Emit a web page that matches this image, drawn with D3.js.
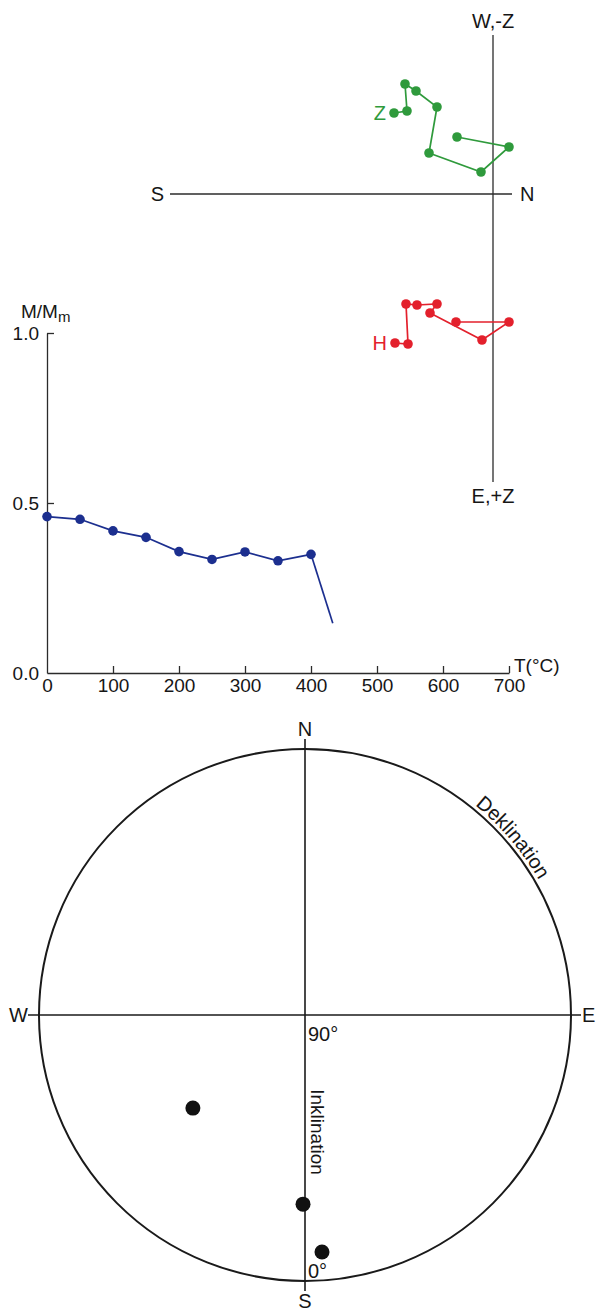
<!DOCTYPE html>
<html><head><meta charset="utf-8">
<script src="https://cdn.jsdelivr.net/npm/d3@7"></script>
<style>
html,body{margin:0;padding:0;background:#fff;}
svg{display:block;font-family:"Liberation Sans",Arial,Helvetica,sans-serif;}
</style></head>
<body>
<svg id="c" width="604" height="1314"></svg>
<script>
// ---- Zijderveld diagram (units: arbitrary, N positive right; W/-Z up, E/+Z down) ----
const zNorth = [-9.9, -8.6, -8.8, -7.7, -5.6, -6.4, -1.2, 1.6, -3.6];
const zVert  = [-8.1, -8.3, -11.0, -10.3, -8.7, -4.1, -2.2, -4.7, -5.7];
const hNorth = [-9.8, -8.5, -8.7, -7.6, -5.6, -6.3, -1.1, 1.6, -3.7];
const hEast  = [14.9, 15.0, 11.0, 11.1, 11.0, 11.9, 14.6, 12.8, 12.8];
const zijAxisNS = [-32.3, 1.9];
const zijAxisWE = [-15.9, 28.8];

// ---- Thermal demagnetisation ----
const temps = [0, 50, 100, 150, 200, 250, 300, 350, 400];
const mRatio = [0.46, 0.452, 0.418, 0.399, 0.357, 0.334, 0.356, 0.330, 0.349];
const tailT = [400, 433];
const tailM = [0.349, 0.146];
const xTicks = [0, 100, 200, 300, 400, 500, 600, 700];
const yTicks = [0, 0.5, 1.0];

// ---- Stereonet (declination °, inclination °) ----
const decl = [230.3, 180.6, 175.9];
const incl = [40.7, 26.0, 9.6];

const svg = d3.select("#c");
const axisCol = "#2b2b2b";
const txtCol = "#161616";

// ========== Zijderveld ==========
const zx = d3.scaleLinear().domain([0, 1]).range([493, 503]);
const zy = d3.scaleLinear().domain([0, 1]).range([194, 204]);
const gZ = svg.append("g");
gZ.append("line").attr("x1", zx(zijAxisNS[0])).attr("x2", zx(zijAxisNS[1]))
  .attr("y1", zy(0)).attr("y2", zy(0)).attr("stroke", axisCol).attr("stroke-width", 1.3);
gZ.append("line").attr("x1", zx(0)).attr("x2", zx(0))
  .attr("y1", zy(zijAxisWE[0])).attr("y2", zy(zijAxisWE[1])).attr("stroke", axisCol).attr("stroke-width", 1.3);
const lblStyle = s => s.attr("font-size", 20).attr("fill", txtCol);
gZ.append("text").attr("x", zx(zijAxisNS[0]) - 6).attr("y", zy(0)).attr("dy", "0.35em")
  .attr("text-anchor", "end").text("S").call(lblStyle);
gZ.append("text").attr("x", zx(zijAxisNS[1]) + 8).attr("y", zy(0)).attr("dy", "0.35em")
  .attr("text-anchor", "start").text("N").call(lblStyle);
gZ.append("text").attr("x", zx(0)).attr("y", zy(zijAxisWE[0]) - 7)
  .attr("text-anchor", "middle").text("W,-Z").call(lblStyle);
gZ.append("text").attr("x", zx(0)).attr("y", zy(zijAxisWE[1]) + 7).attr("dy", "0.71em")
  .attr("text-anchor", "middle").text("E,+Z").call(lblStyle);

function zijSeries(xs, ys, col, label) {
  const pts = xs.map((v, i) => [zx(v), zy(ys[i])]);
  gZ.append("path").attr("d", d3.line()(pts)).attr("fill", "none")
    .attr("stroke", col).attr("stroke-width", 1.7);
  gZ.selectAll(null).data(pts).enter().append("circle")
    .attr("cx", d => d[0]).attr("cy", d => d[1]).attr("r", 4.8).attr("fill", col);
  gZ.append("text").attr("x", pts[0][0] - 8).attr("y", pts[0][1]).attr("dy", "0.35em")
    .attr("text-anchor", "end").attr("font-size", 20).attr("fill", col).text(label);
}
zijSeries(zNorth, zVert, "#2f9a3c", "Z");
zijSeries(hNorth, hEast, "#e3202c", "H");

// ========== M/Mm vs T ==========
const x = d3.scaleLinear().domain([0, 700]).range([47, 509]);
const y = d3.scaleLinear().domain([0, 1]).range([673, 333]);
const gM = svg.append("g");
gM.append("g").attr("transform", `translate(0,${y(0)})`)
  .call(d3.axisBottom(x).tickValues(xTicks).tickSizeInner(-7).tickSizeOuter(0).tickPadding(6)
    .tickFormat(d3.format("d")))
  .call(g => g.select(".domain").attr("stroke", axisCol).attr("stroke-width", 1.3))
  .call(g => g.selectAll(".tick line").attr("stroke", axisCol).attr("stroke-width", 1.3)
        .attr("display", d => d === 0 ? "none" : null))
  .call(g => g.selectAll(".tick text").attr("font-size", 19).attr("fill", txtCol)
        .attr("font-family", "Liberation Sans, Arial, sans-serif"));
gM.append("g").attr("transform", `translate(${x(0)},0)`)
  .call(d3.axisLeft(y).tickValues(yTicks).tickSizeInner(-7).tickSizeOuter(0).tickPadding(8)
    .tickFormat(d3.format(".1f")))
  .call(g => g.select(".domain").attr("stroke", axisCol).attr("stroke-width", 1.3))
  .call(g => g.selectAll(".tick line").attr("stroke", axisCol).attr("stroke-width", 1.3)
        .attr("display", d => d === 0 ? "none" : null))
  .call(g => g.selectAll(".tick text").attr("font-size", 19).attr("fill", txtCol)
        .attr("font-family", "Liberation Sans, Arial, sans-serif"));
gM.append("text").attr("x", x(700) + 5).attr("y", y(0) - 1).attr("font-size", 19)
  .attr("fill", txtCol).text("T(°C)");
const mm = gM.append("text").attr("x", 21).attr("y", 318).attr("font-size", 19).attr("fill", txtCol);
mm.append("tspan").text("M/M");
mm.append("tspan").attr("font-size", 15).attr("dy", 4).text("m");

const blue = "#1c2f8f";
const mPts = temps.map((t, i) => [x(t), y(mRatio[i])]);
gM.append("path").attr("d", d3.line()(mPts)).attr("fill", "none").attr("stroke", blue).attr("stroke-width", 1.7);
gM.append("path").attr("d", d3.line()(tailT.map((t, i) => [x(t), y(tailM[i])])))
  .attr("fill", "none").attr("stroke", blue).attr("stroke-width", 1.7);
gM.selectAll(null).data(mPts).enter().append("circle")
  .attr("cx", d => d[0]).attr("cy", d => d[1]).attr("r", 4.8).attr("fill", blue);

// ========== Stereonet ==========
const cx = 305, cy = 1015, R = 266;
const rS = d3.scaleLinear().domain([90, 0]).range([0, R]);
const gS = svg.append("g");
gS.append("circle").attr("cx", cx).attr("cy", cy).attr("r", R).attr("fill", "none")
  .attr("stroke", "#1a1a1a").attr("stroke-width", 2);
gS.append("line").attr("x1", cx - R - 11).attr("x2", cx + R + 10).attr("y1", cy).attr("y2", cy)
  .attr("stroke", "#1a1a1a").attr("stroke-width", 1.6);
gS.append("line").attr("x1", cx).attr("x2", cx).attr("y1", cy - R - 10).attr("y2", cy + R + 10)
  .attr("stroke", "#1a1a1a").attr("stroke-width", 1.6);
const sLbl = s => s.attr("font-size", 20).attr("fill", txtCol);
gS.append("text").attr("x", cx).attr("y", cy - R - 13).attr("text-anchor", "middle").text("N").call(sLbl);
gS.append("text").attr("x", cx).attr("y", cy + R + 13).attr("dy", "0.71em").attr("text-anchor", "middle").text("S").call(sLbl);
gS.append("text").attr("x", cx - R - 11).attr("y", cy).attr("dy", "0.35em").attr("text-anchor", "end").text("W").call(sLbl);
gS.append("text").attr("x", cx + R + 11).attr("y", cy).attr("dy", "0.35em").attr("text-anchor", "start").text("E").call(sLbl);
gS.append("text").attr("x", cx + 3).attr("y", cy + 26).text("90°").call(sLbl);
gS.append("text").attr("x", cx + 3).attr("y", cy + R - 3).text("0°").call(sLbl);
gS.append("text").attr("transform", `translate(${cx + 6},${cy + 117}) rotate(90)`)
  .attr("text-anchor", "middle").attr("font-size", 19).attr("fill", txtCol).text("Inklination");

const arcR = R + 4;
gS.append("path").attr("id", "dekArc").attr("fill", "none")
  .attr("d", `M${cx},${cy - arcR} A${arcR},${arcR} 0 0 1 ${cx + arcR},${cy}`);
gS.append("text").attr("font-size", 20).attr("fill", txtCol)
  .append("textPath").attr("href", "#dekArc").attr("startOffset", "55%").attr("text-anchor", "middle")
  .text("Deklination");

gS.selectAll(null).data(decl.map((d, i) => [d, incl[i]])).enter().append("circle")
  .attr("cx", d => cx + rS(d[1]) * Math.sin(d[0] * Math.PI / 180))
  .attr("cy", d => cy - rS(d[1]) * Math.cos(d[0] * Math.PI / 180))
  .attr("r", 7.5).attr("fill", "#111");
</script>
</body></html>
